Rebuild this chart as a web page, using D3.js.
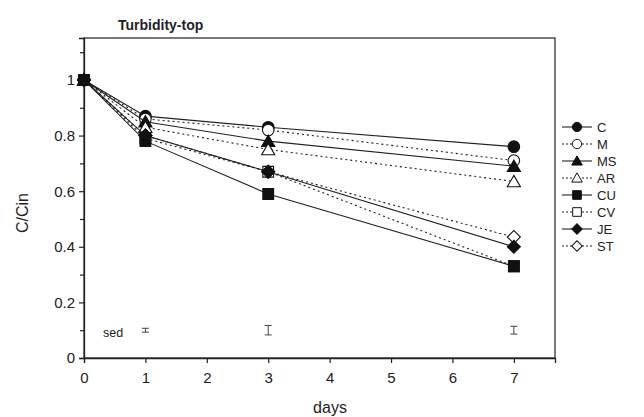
<!DOCTYPE html>
<html>
<head>
<meta charset="utf-8">
<script src="https://cdn.jsdelivr.net/npm/d3@7"></script>
<style>
  body { margin: 0; background: #fff; }
  text { font-family: "Liberation Sans", Arial, sans-serif; fill: #222; }
</style>
</head>
<body>
<svg id="chart" width="644" height="417"></svg>
<script>
var days = [0, 1, 3, 7]
var seriesNames = ["C", "M", "MS", "AR", "CU", "CV", "JE", "ST"]
var valC  = [1, 0.87, 0.83, 0.76]
var valM  = [1, 0.86, 0.82, 0.71]
var valMS = [1, 0.85, 0.78, 0.69]
var valAR = [1, 0.83, 0.75, 0.635]
var valCU = [1, 0.78, 0.59, 0.33]
var valCV = [1, 0.79, 0.67, 0.33]
var valJE = [1, 0.80, 0.67, 0.40]
var valST = [1, 0.80, 0.67, 0.435]
var sedDays = [1, 3, 7]
var sedCentre = [0.10, 0.10, 0.10]
var sedSize = [0.014, 0.034, 0.028]
var xTicks = [0, 1, 2, 3, 4, 5, 6, 7]
var yTicks = [0, 0.2, 0.4, 0.6, 0.8, 1]
var yMinor = [0.1, 0.3, 0.5, 0.7, 0.9, 1.1]
// order in which the series are painted (later ones sit on top)
var drawOrder = ["C", "M", "MS", "AR", "CV", "ST", "CU", "JE"]

var symbolOf = { C: "circle", M: "circle", MS: "triangle", AR: "triangle",
                 CU: "square", CV: "square", JE: "diamond", ST: "diamond" }
var seriesVals = [valC, valM, valMS, valAR, valCU, valCV, valJE, valST]
var series = seriesNames.map(function (n, i) {
  return { name: n, values: seriesVals[i], filled: i % 2 == 0, shape: symbolOf[n] }
})
var drawn = drawOrder.map(function (n) { return series[seriesNames.indexOf(n)] })

var plotLeft = 84, plotRight = 555, plotTop = 38, plotBottom = 358
var svg = d3.select("#chart")
var xScale = d3.scaleLinear().domain([0, 7.67]).range([plotLeft, plotRight])
var yScale = d3.scaleLinear().domain([0, 1.151]).range([plotBottom, plotTop])

// frame
svg.append("rect")
  .attr("x", plotLeft).attr("y", plotTop)
  .attr("width", plotRight - plotLeft).attr("height", plotBottom - plotTop)
  .attr("fill", "none").attr("stroke", "#222").attr("stroke-width", 1.2)

svg.append("g")
  .attr("transform", "translate(0," + plotBottom + ")")
  .call(d3.axisBottom(xScale).tickValues(xTicks).tickSize(5).tickPadding(9).tickFormat(d3.format("d")))
svg.append("g")
  .attr("transform", "translate(" + plotLeft + ",0)")
  .call(d3.axisLeft(yScale).tickValues(yTicks).tickSize(5).tickPadding(4).tickFormat(function (d) { return d == 0 || d == 1 ? d : d3.format(".1f")(d) }))
svg.append("g")
  .attr("transform", "translate(" + plotLeft + ",0)")
  .call(d3.axisLeft(yScale).tickValues(yMinor).tickSize(4).tickFormat(""))
  .select(".domain").remove()
svg.selectAll(".domain").attr("stroke", "#222").attr("stroke-width", 1.3)
svg.selectAll(".tick line").attr("stroke", "#222").attr("stroke-width", 1.2)
svg.selectAll(".tick text").attr("font-size", 15).attr("font-family", "Liberation Sans, Arial, sans-serif").attr("fill", "#222")

// titles
svg.append("text").attr("x", 118).attr("y", 30)
  .attr("font-size", 14).attr("font-weight", "bold").text("Turbidity-top")
svg.append("text").attr("x", 330).attr("y", 413).attr("text-anchor", "middle")
  .attr("font-size", 16).text("days")
svg.append("text").attr("transform", "translate(28,213) rotate(-90)")
  .attr("text-anchor", "middle").attr("font-size", 16).text("C/Cin")

var symbolType = { circle: d3.symbolCircle, triangle: d3.symbolTriangle,
                   square: d3.symbolSquare, diamond: d3.symbolSquare }
var symbolArea = { circle: 105, triangle: 75, square: 115, diamond: 85 }
var symbolPath = function (shape, scale) {
  return d3.symbol().type(symbolType[shape]).size(symbolArea[shape] * (scale || 1))()
}
var symbolTransform = function (shape, x, y) {
  if (shape == "triangle") return "translate(" + x + "," + (y + 1.5) + ")"
  if (shape == "diamond") return "translate(" + x + "," + y + ") rotate(45)"
  return "translate(" + x + "," + y + ")"
}

var line = d3.line()
  .x(function (d, i) { return xScale(days[i]) })
  .y(function (d) { return yScale(d) })

var gSeries = svg.append("g").selectAll("g")
  .data(drawn)
  .enter().append("g")
gSeries.append("path")
  .attr("d", function (d) { return line(d.values) })
  .attr("fill", "none").attr("stroke", "#222").attr("stroke-width", 1.1)
  .attr("stroke-dasharray", function (d) { return d.filled ? null : "2,3" })
gSeries.selectAll(".pt")
  .data(function (d) { return d.values.map(function (v, i) { return { v: v, x: days[i], s: d } }) })
  .enter().append("path")
  .attr("class", "pt")
  .attr("transform", function (d) { return symbolTransform(d.s.shape, xScale(d.x), yScale(d.v)) })
  .attr("d", function (d) { return symbolPath(d.s.shape) })
  .attr("fill", function (d) { return d.s.filled ? "#111" : "#fff" })
  .attr("stroke", "#111").attr("stroke-width", 1.1)

// sed bars
svg.append("text").attr("x", 103).attr("y", 337).attr("font-size", 12.5).text("sed")
var gSed = svg.append("g").selectAll("g")
  .data(sedDays.map(function (d, i) { return { x: d, c: sedCentre[i], s: sedSize[i] } }))
  .enter().append("g")
  .attr("stroke", "#444").attr("stroke-width", 1)
gSed.append("line")
  .attr("x1", function (d) { return xScale(d.x) }).attr("x2", function (d) { return xScale(d.x) })
  .attr("y1", function (d) { return yScale(d.c + d.s / 2) }).attr("y2", function (d) { return yScale(d.c - d.s / 2) })
gSed.selectAll(".cap")
  .data(function (d) { return [d.c + d.s / 2, d.c - d.s / 2].map(function (v) { return { x: d.x, v: v } }) })
  .enter().append("line")
  .attr("x1", function (d) { return xScale(d.x) - 3.5 }).attr("x2", function (d) { return xScale(d.x) + 3.5 })
  .attr("y1", function (d) { return yScale(d.v) }).attr("y2", function (d) { return yScale(d.v) })

// legend
var gLegend = svg.append("g").selectAll("g")
  .data(series)
  .enter().append("g")
  .attr("transform", function (d, i) { return "translate(562," + (127 + i * 17) + ")" })
gLegend.append("line")
  .attr("x1", 0).attr("x2", 30).attr("y1", 0).attr("y2", 0)
  .attr("stroke", "#222").attr("stroke-width", 1.1)
  .attr("stroke-dasharray", function (d) { return d.filled ? null : "2,2" })
gLegend.append("path")
  .attr("transform", function (d) { return symbolTransform(d.shape, 15, d.shape == "triangle" ? -0.5 : 0) })
  .attr("d", function (d) { return symbolPath(d.shape, 0.65) })
  .attr("fill", function (d) { return d.filled ? "#111" : "#fff" })
  .attr("stroke", "#111").attr("stroke-width", 1)
gLegend.append("text")
  .attr("x", 35).attr("y", 5).attr("font-size", 13)
  .text(function (d) { return d.name })
</script>
</body>
</html>
